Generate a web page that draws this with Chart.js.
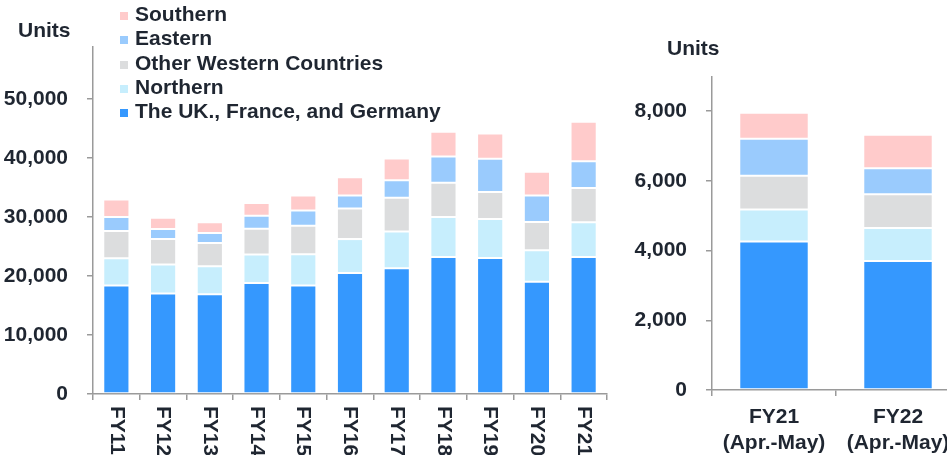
<!DOCTYPE html>
<html>
<head>
<meta charset="utf-8">
<script src="https://cdn.jsdelivr.net/npm/chart.js@4.4.0/dist/chart.umd.min.js"></script>
<style>
  html, body { margin: 0; padding: 0; background: #fff; overflow: hidden; }
  body { width: 947px; height: 455px; position: relative; font-family: "Liberation Sans", Arial, sans-serif; color: #1f2631; }
  canvas { position: absolute; top: 0; }
  .units { position: absolute; font-weight: bold; font-size: 21px; }
  #legend { position: absolute; left: 120px; top: 2px; }
  .item { height: 24.3px; line-height: 24.3px; font-weight: bold; font-size: 21px; white-space: nowrap; }
  .sw { display: inline-block; width: 8px; height: 8px; margin-right: 7px; vertical-align: 1px; }
</style>
</head>
<body>
<canvas id="yearly" width="620" height="455" style="left:0"></canvas>
<canvas id="months" width="370" height="455" style="left:600px"></canvas>
<div class="units" style="left:18px; top:18px">Units</div>
<div class="units" style="left:667px; top:36px">Units</div>
<div id="legend"></div>
<script>
// categories
const years = ['FY11', 'FY12', 'FY13', 'FY14', 'FY15', 'FY16', 'FY17', 'FY18', 'FY19', 'FY20', 'FY21'];
const periods = [['FY21', '(Apr.-May)'], ['FY22', '(Apr.-May)']];

// series names, bottom to top
const regions = ['The UK., France, and Germany', 'Northern', 'Other Western Countries', 'Eastern', 'Southern'];
const colors = ['#3598fe', '#c7eefd', '#dcddde', '#9acbfd', '#ffcbcb'];

// yearly units per region (FY11..FY21)
const ukFrGer = [18400, 17050, 16900, 18800, 18400, 20500, 21300, 23200, 23050, 19000, 23200];
const northern = [4600, 4900, 4750, 4850, 5300, 5750, 6250, 6800, 6600, 5350, 5900];
const otherWestern = [4600, 4300, 3950, 4350, 4800, 5200, 5700, 5800, 4600, 4800, 5800];
const eastern = [2400, 1700, 1700, 2200, 2600, 2200, 2950, 4450, 5600, 4500, 4550];
const southern = [2950, 1900, 1800, 2150, 2550, 3100, 3700, 4200, 4300, 4000, 6700];

// April-May units per region (FY21, FY22)
const ukFrGerAM = [4260, 3700];
const northernAM = [915, 950];
const otherWesternAM = [975, 965];
const easternAM = [1060, 745];
const southernAM = [745, 965];

const yearlyTicks = [0, 10000, 20000, 30000, 40000, 50000];
const monthTicks = [0, 2000, 4000, 6000, 8000];

const textColor = '#1f2631';
const axisColor = '#9a9a9a';
const font = { family: '"Liberation Sans", Arial, sans-serif', size: 21, weight: 'bold' };

// legend, top to bottom is reverse of stack order
const legend = document.getElementById('legend');
for (let i = regions.length - 1; i >= 0; i--) {
  const row = document.createElement('div');
  row.className = 'item';
  row.innerHTML = '<span class="sw" style="background:' + colors[i] + '"></span>' + regions[i];
  legend.appendChild(row);
}

function makeSets(series) {
  return series.map((data, i) => ({
    label: regions[i],
    data: data,
    backgroundColor: colors[i],
    borderColor: '#ffffff',
    borderWidth: 1,
    borderSkipped: false,
    barPercentage: 0.56,
    categoryPercentage: 1
  }));
}

function yAxis(max, ticks, width) {
  return {
    stacked: true,
    min: 0,
    max: max,
    afterBuildTicks: s => { s.ticks = ticks.map(v => ({ value: v })); },
    afterFit: s => { s.width = width; },
    border: { display: true, color: axisColor, width: 1.5 },
    grid: { drawOnChartArea: false, drawTicks: true, tickLength: 6, color: axisColor, lineWidth: 1.5 },
    ticks: { color: textColor, font: font, padding: 19, callback: v => v.toLocaleString('en-US') }
  };
}

// draws the year labels rotated clockwise (reading downwards)
const downLabels = {
  id: 'downLabels',
  afterDraw(chart) {
    const ctx = chart.ctx;
    const xs = chart.scales.x;
    ctx.save();
    ctx.fillStyle = textColor;
    ctx.font = 'bold 21px "Liberation Sans", Arial, sans-serif';
    ctx.textAlign = 'left';
    ctx.textBaseline = 'middle';
    years.forEach((label, i) => {
      ctx.save();
      ctx.translate(xs.getPixelForValue(i), 406);
      ctx.rotate(Math.PI / 2);
      ctx.fillText(label, 0, 0);
      ctx.restore();
    });
    ctx.restore();
  }
};

new Chart(document.getElementById('yearly'), {
  type: 'bar',
  data: { labels: years, datasets: makeSets([ukFrGer, northern, otherWestern, eastern, southern]) },
  options: {
    responsive: false,
    animation: false,
    layout: { padding: { top: 47, right: 13, left: 0, bottom: 0 } },
    plugins: { legend: { display: false }, tooltip: { enabled: false } },
    scales: {
      x: {
        stacked: true,
        afterFit: s => { s.height = 61; },
        border: { display: true, color: axisColor, width: 1.5 },
        grid: { offset: true, drawOnChartArea: false, drawTicks: true, tickLength: 6, color: axisColor, lineWidth: 1.5 },
        ticks: { display: false }
      },
      y: yAxis(58800, yearlyTicks, 93)
    }
  },
  plugins: [downLabels]
});

new Chart(document.getElementById('months'), {
  type: 'bar',
  data: { labels: periods, datasets: makeSets([ukFrGerAM, northernAM, otherWesternAM, easternAM, southernAM]) },
  options: {
    responsive: false,
    animation: false,
    layout: { padding: { top: 77, right: 10, left: 0, bottom: 0 } },
    plugins: { legend: { display: false }, tooltip: { enabled: false } },
    scales: {
      x: {
        stacked: true,
        afterFit: s => { s.height = 65; },
        border: { display: true, color: axisColor, width: 1.5 },
        grid: { offset: true, drawOnChartArea: false, drawTicks: true, tickLength: 6, color: axisColor, lineWidth: 1.5 },
        ticks: { color: textColor, font: Object.assign({}, font, { lineHeight: 1.25 }), padding: 8, maxRotation: 0 }
      },
      y: yAxis(8980, monthTicks, 112)
    }
  }
});
</script>
</body>
</html>
